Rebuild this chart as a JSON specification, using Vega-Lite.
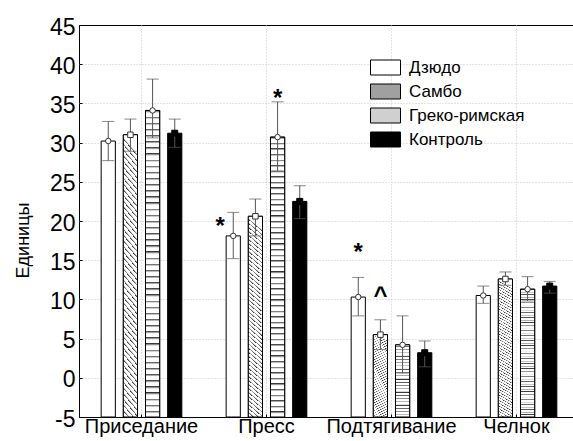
{
"$schema": "https://vega.github.io/schema/vega-lite/v6.json",
"width": 494,
"height": 392,
"autosize": {"type": "none"},
"padding": {"left": 79, "top": 25, "right": 0, "bottom": 24},
"background": "white",
"config": {
  "font": "Liberation Sans",
  "view": {"stroke": "black", "strokeWidth": 1},
  "axis": {"domain": false, "ticks": false, "gridColor": "#c8c8c8", "gridDash": [1, 2], "gridWidth": 1, "labelColor": "black", "titleColor": "black", "labelFont": "Liberation Sans", "titleFont": "Liberation Sans"},
  "axisY": {"labelOverlap": false, "labelFlush": false},
  "legend": {"labelFont": "Liberation Sans"}
},
"datasets": {
  "bars": [
    {"group":"Приседание","series":"Дзюдо","mean":30.2,"lo":27.7,"hi":32.7},
    {"group":"Приседание","series":"Самбо","mean":31.0,"lo":28.9,"hi":33.0},
    {"group":"Приседание","series":"Греко-римская","mean":34.1,"lo":30.6,"hi":38.1},
    {"group":"Приседание","series":"Контроль","mean":31.2,"lo":29.4,"hi":33.0},
    {"group":"Пресс","series":"Дзюдо","mean":18.1,"lo":15.2,"hi":21.1},
    {"group":"Пресс","series":"Самбо","mean":20.6,"lo":18.1,"hi":22.8},
    {"group":"Пресс","series":"Греко-римская","mean":30.7,"lo":26.4,"hi":35.2},
    {"group":"Пресс","series":"Контроль","mean":22.5,"lo":20.3,"hi":24.5},
    {"group":"Подтягивание","series":"Дзюдо","mean":10.3,"lo":7.9,"hi":12.8},
    {"group":"Подтягивание","series":"Самбо","mean":5.5,"lo":3.6,"hi":7.4},
    {"group":"Подтягивание","series":"Греко-римская","mean":4.2,"lo":0.6,"hi":7.9},
    {"group":"Подтягивание","series":"Контроль","mean":3.2,"lo":1.4,"hi":4.7},
    {"group":"Челнок","series":"Дзюдо","mean":10.5,"lo":9.5,"hi":11.7},
    {"group":"Челнок","series":"Самбо","mean":12.6,"lo":11.8,"hi":13.5},
    {"group":"Челнок","series":"Греко-римская","mean":11.3,"lo":9.8,"hi":12.9},
    {"group":"Челнок","series":"Контроль","mean":11.7,"lo":10.8,"hi":12.3}
  ],
  "annTop": [
    {"group":"Пресс","series":"Греко-римская","label":"*","y":36.5},
    {"group":"Подтягивание","series":"Дзюдо","label":"*","y":16.8},
    {"group":"Подтягивание","series":"Самбо","label":"^","y":11.3}
  ],
  "annLeft": [
    {"group":"Пресс","series":"Дзюдо","label":"*","y":20.1}
  ]
},
"encoding": {
  "x": {"field": "group", "type": "nominal", "sort": ["Приседание","Пресс","Подтягивание","Челнок"],
        "scale": {"range": [0, 500], "paddingInner": 0, "paddingOuter": 0},
        "axis": {"title": null, "labelAngle": 0, "labelFontSize": 20, "labelPadding": 2, "grid": true, "bandPosition": 0.5, "ticks": true, "tickSize": -3, "tickColor": "black"}},
  "xOffset": {"field": "series", "type": "nominal", "sort": ["Дзюдо","Самбо","Греко-римская","Контроль"],
        "scale": {"paddingInner": 0.36, "paddingOuter": 1.52}}
},
"layer": [
  {
    "data": {"name": "bars"},
    "mark": {"type": "bar", "stroke": "black", "strokeWidth": 1, "strokeOpacity": 1},
    "encoding": {
      "y": {"field": "mean", "type": "quantitative", "scale": {"domain": [-5, 45], "nice": false, "zero": false},
            "axis": {"values": [-5,0,5,10,15,20,25,30,35,40,45], "tickCount": 20, "labelExpr": "datum.value", "labelOverlap": false, "labelFontSize": 23, "labelPadding": 7, "labelOffset": 2, "grid": true,
                     "gridOpacity": {"condition": {"test": "datum.value === 45 || datum.value === -5", "value": 0}, "value": 1},
                     "ticks": true, "tickSize": -3, "tickColor": "black",
                     "title": "Единицы", "titleFontSize": 18, "titleFontWeight": "normal", "titleAngle": 270, "titleX": -56, "titleY": 215, "titleBaseline": "middle", "titleAlign": "center"}},
      "y2": {"datum": -5},
      "fill": {"field": "series", "type": "nominal", "sort": ["Дзюдо","Самбо","Греко-римская","Контроль"],
        "scale": {"domain": ["Дзюдо","Самбо","Греко-римская","Контроль"], "range": ["#ffffff", "#a0a0a0", "#d0d0d0", "#000000"]},
        "legend": {"title": null, "orient": "none", "legendX": 296, "legendY": 32, "symbolType": "M-1.5,-0.75H1.5V0.75H-1.5Z", "symbolSize": 400,
                   "symbolStrokeColor": "black", "symbolStrokeWidth": 1, "labelFontSize": 17, "labelColor": "black", "labelOffset": 13, "rowPadding": 4}}
    }
  },
  {
    "data": {"name": "bars"},
    "transform": [{"filter": "datum.series === 'Самбо'"}],
    "mark": {"type": "bar", "stroke": "black", "strokeWidth": 1,
      "fill": {"gradient": "linear", "x1": 0, "y1": 1, "x2": 0.06, "y2": 0, "stops": [
{"offset":0,"color":"#333"},{"offset":0.008,"color":"#fff"},{"offset":0.02,"color":"#fff"},
{"offset":0.02,"color":"#333"},{"offset":0.028,"color":"#fff"},{"offset":0.04,"color":"#fff"},
{"offset":0.04,"color":"#333"},{"offset":0.048,"color":"#fff"},{"offset":0.06,"color":"#fff"},
{"offset":0.06,"color":"#333"},{"offset":0.068,"color":"#fff"},{"offset":0.08,"color":"#fff"},
{"offset":0.08,"color":"#333"},{"offset":0.088,"color":"#fff"},{"offset":0.1,"color":"#fff"},
{"offset":0.1,"color":"#333"},{"offset":0.108,"color":"#fff"},{"offset":0.12,"color":"#fff"},
{"offset":0.12,"color":"#333"},{"offset":0.128,"color":"#fff"},{"offset":0.14,"color":"#fff"},
{"offset":0.14,"color":"#333"},{"offset":0.148,"color":"#fff"},{"offset":0.16,"color":"#fff"},
{"offset":0.16,"color":"#333"},{"offset":0.168,"color":"#fff"},{"offset":0.18,"color":"#fff"},
{"offset":0.18,"color":"#333"},{"offset":0.188,"color":"#fff"},{"offset":0.2,"color":"#fff"},
{"offset":0.2,"color":"#333"},{"offset":0.208,"color":"#fff"},{"offset":0.22,"color":"#fff"},
{"offset":0.22,"color":"#333"},{"offset":0.228,"color":"#fff"},{"offset":0.24,"color":"#fff"},
{"offset":0.24,"color":"#333"},{"offset":0.248,"color":"#fff"},{"offset":0.26,"color":"#fff"},
{"offset":0.26,"color":"#333"},{"offset":0.268,"color":"#fff"},{"offset":0.28,"color":"#fff"},
{"offset":0.28,"color":"#333"},{"offset":0.288,"color":"#fff"},{"offset":0.3,"color":"#fff"},
{"offset":0.3,"color":"#333"},{"offset":0.308,"color":"#fff"},{"offset":0.32,"color":"#fff"},
{"offset":0.32,"color":"#333"},{"offset":0.328,"color":"#fff"},{"offset":0.34,"color":"#fff"},
{"offset":0.34,"color":"#333"},{"offset":0.348,"color":"#fff"},{"offset":0.36,"color":"#fff"},
{"offset":0.36,"color":"#333"},{"offset":0.368,"color":"#fff"},{"offset":0.38,"color":"#fff"},
{"offset":0.38,"color":"#333"},{"offset":0.388,"color":"#fff"},{"offset":0.4,"color":"#fff"},
{"offset":0.4,"color":"#333"},{"offset":0.408,"color":"#fff"},{"offset":0.42,"color":"#fff"},
{"offset":0.42,"color":"#333"},{"offset":0.428,"color":"#fff"},{"offset":0.44,"color":"#fff"},
{"offset":0.44,"color":"#333"},{"offset":0.448,"color":"#fff"},{"offset":0.46,"color":"#fff"},
{"offset":0.46,"color":"#333"},{"offset":0.468,"color":"#fff"},{"offset":0.48,"color":"#fff"},
{"offset":0.48,"color":"#333"},{"offset":0.488,"color":"#fff"},{"offset":0.5,"color":"#fff"},
{"offset":0.5,"color":"#333"},{"offset":0.508,"color":"#fff"},{"offset":0.52,"color":"#fff"},
{"offset":0.52,"color":"#333"},{"offset":0.528,"color":"#fff"},{"offset":0.54,"color":"#fff"},
{"offset":0.54,"color":"#333"},{"offset":0.548,"color":"#fff"},{"offset":0.56,"color":"#fff"},
{"offset":0.56,"color":"#333"},{"offset":0.568,"color":"#fff"},{"offset":0.58,"color":"#fff"},
{"offset":0.58,"color":"#333"},{"offset":0.588,"color":"#fff"},{"offset":0.6,"color":"#fff"},
{"offset":0.6,"color":"#333"},{"offset":0.608,"color":"#fff"},{"offset":0.62,"color":"#fff"},
{"offset":0.62,"color":"#333"},{"offset":0.628,"color":"#fff"},{"offset":0.64,"color":"#fff"},
{"offset":0.64,"color":"#333"},{"offset":0.648,"color":"#fff"},{"offset":0.66,"color":"#fff"},
{"offset":0.66,"color":"#333"},{"offset":0.668,"color":"#fff"},{"offset":0.68,"color":"#fff"},
{"offset":0.68,"color":"#333"},{"offset":0.688,"color":"#fff"},{"offset":0.7,"color":"#fff"},
{"offset":0.7,"color":"#333"},{"offset":0.708,"color":"#fff"},{"offset":0.72,"color":"#fff"},
{"offset":0.72,"color":"#333"},{"offset":0.728,"color":"#fff"},{"offset":0.74,"color":"#fff"},
{"offset":0.74,"color":"#333"},{"offset":0.748,"color":"#fff"},{"offset":0.76,"color":"#fff"},
{"offset":0.76,"color":"#333"},{"offset":0.768,"color":"#fff"},{"offset":0.78,"color":"#fff"},
{"offset":0.78,"color":"#333"},{"offset":0.788,"color":"#fff"},{"offset":0.8,"color":"#fff"},
{"offset":0.8,"color":"#333"},{"offset":0.808,"color":"#fff"},{"offset":0.82,"color":"#fff"},
{"offset":0.82,"color":"#333"},{"offset":0.828,"color":"#fff"},{"offset":0.84,"color":"#fff"},
{"offset":0.84,"color":"#333"},{"offset":0.848,"color":"#fff"},{"offset":0.86,"color":"#fff"},
{"offset":0.86,"color":"#333"},{"offset":0.868,"color":"#fff"},{"offset":0.88,"color":"#fff"},
{"offset":0.88,"color":"#333"},{"offset":0.888,"color":"#fff"},{"offset":0.9,"color":"#fff"},
{"offset":0.9,"color":"#333"},{"offset":0.908,"color":"#fff"},{"offset":0.92,"color":"#fff"},
{"offset":0.92,"color":"#333"},{"offset":0.928,"color":"#fff"},{"offset":0.94,"color":"#fff"},
{"offset":0.94,"color":"#333"},{"offset":0.948,"color":"#fff"},{"offset":0.96,"color":"#fff"},
{"offset":0.96,"color":"#333"},{"offset":0.968,"color":"#fff"},{"offset":0.98,"color":"#fff"},
{"offset":0.98,"color":"#333"},{"offset":0.988,"color":"#fff"},{"offset":1,"color":"#fff"}
      ]}},
    "encoding": {"y": {"field": "mean", "type": "quantitative"}, "y2": {"datum": -5}}
  },
  {
    "data": {"name": "bars"},
    "transform": [{"filter": "datum.series === 'Греко-римская'"}],
    "mark": {"type": "bar", "stroke": "black", "strokeWidth": 1,
      "fill": {"gradient": "linear", "x1": 0, "y1": 0, "x2": 0, "y2": 1, "stops": [
{"offset":0,"color":"#333"},{"offset":0.008,"color":"#fff"},{"offset":0.02,"color":"#fff"},
{"offset":0.02,"color":"#333"},{"offset":0.028,"color":"#fff"},{"offset":0.04,"color":"#fff"},
{"offset":0.04,"color":"#333"},{"offset":0.048,"color":"#fff"},{"offset":0.06,"color":"#fff"},
{"offset":0.06,"color":"#333"},{"offset":0.068,"color":"#fff"},{"offset":0.08,"color":"#fff"},
{"offset":0.08,"color":"#333"},{"offset":0.088,"color":"#fff"},{"offset":0.1,"color":"#fff"},
{"offset":0.1,"color":"#333"},{"offset":0.108,"color":"#fff"},{"offset":0.12,"color":"#fff"},
{"offset":0.12,"color":"#333"},{"offset":0.128,"color":"#fff"},{"offset":0.14,"color":"#fff"},
{"offset":0.14,"color":"#333"},{"offset":0.148,"color":"#fff"},{"offset":0.16,"color":"#fff"},
{"offset":0.16,"color":"#333"},{"offset":0.168,"color":"#fff"},{"offset":0.18,"color":"#fff"},
{"offset":0.18,"color":"#333"},{"offset":0.188,"color":"#fff"},{"offset":0.2,"color":"#fff"},
{"offset":0.2,"color":"#333"},{"offset":0.208,"color":"#fff"},{"offset":0.22,"color":"#fff"},
{"offset":0.22,"color":"#333"},{"offset":0.228,"color":"#fff"},{"offset":0.24,"color":"#fff"},
{"offset":0.24,"color":"#333"},{"offset":0.248,"color":"#fff"},{"offset":0.26,"color":"#fff"},
{"offset":0.26,"color":"#333"},{"offset":0.268,"color":"#fff"},{"offset":0.28,"color":"#fff"},
{"offset":0.28,"color":"#333"},{"offset":0.288,"color":"#fff"},{"offset":0.3,"color":"#fff"},
{"offset":0.3,"color":"#333"},{"offset":0.308,"color":"#fff"},{"offset":0.32,"color":"#fff"},
{"offset":0.32,"color":"#333"},{"offset":0.328,"color":"#fff"},{"offset":0.34,"color":"#fff"},
{"offset":0.34,"color":"#333"},{"offset":0.348,"color":"#fff"},{"offset":0.36,"color":"#fff"},
{"offset":0.36,"color":"#333"},{"offset":0.368,"color":"#fff"},{"offset":0.38,"color":"#fff"},
{"offset":0.38,"color":"#333"},{"offset":0.388,"color":"#fff"},{"offset":0.4,"color":"#fff"},
{"offset":0.4,"color":"#333"},{"offset":0.408,"color":"#fff"},{"offset":0.42,"color":"#fff"},
{"offset":0.42,"color":"#333"},{"offset":0.428,"color":"#fff"},{"offset":0.44,"color":"#fff"},
{"offset":0.44,"color":"#333"},{"offset":0.448,"color":"#fff"},{"offset":0.46,"color":"#fff"},
{"offset":0.46,"color":"#333"},{"offset":0.468,"color":"#fff"},{"offset":0.48,"color":"#fff"},
{"offset":0.48,"color":"#333"},{"offset":0.488,"color":"#fff"},{"offset":0.5,"color":"#fff"},
{"offset":0.5,"color":"#333"},{"offset":0.508,"color":"#fff"},{"offset":0.52,"color":"#fff"},
{"offset":0.52,"color":"#333"},{"offset":0.528,"color":"#fff"},{"offset":0.54,"color":"#fff"},
{"offset":0.54,"color":"#333"},{"offset":0.548,"color":"#fff"},{"offset":0.56,"color":"#fff"},
{"offset":0.56,"color":"#333"},{"offset":0.568,"color":"#fff"},{"offset":0.58,"color":"#fff"},
{"offset":0.58,"color":"#333"},{"offset":0.588,"color":"#fff"},{"offset":0.6,"color":"#fff"},
{"offset":0.6,"color":"#333"},{"offset":0.608,"color":"#fff"},{"offset":0.62,"color":"#fff"},
{"offset":0.62,"color":"#333"},{"offset":0.628,"color":"#fff"},{"offset":0.64,"color":"#fff"},
{"offset":0.64,"color":"#333"},{"offset":0.648,"color":"#fff"},{"offset":0.66,"color":"#fff"},
{"offset":0.66,"color":"#333"},{"offset":0.668,"color":"#fff"},{"offset":0.68,"color":"#fff"},
{"offset":0.68,"color":"#333"},{"offset":0.688,"color":"#fff"},{"offset":0.7,"color":"#fff"},
{"offset":0.7,"color":"#333"},{"offset":0.708,"color":"#fff"},{"offset":0.72,"color":"#fff"},
{"offset":0.72,"color":"#333"},{"offset":0.728,"color":"#fff"},{"offset":0.74,"color":"#fff"},
{"offset":0.74,"color":"#333"},{"offset":0.748,"color":"#fff"},{"offset":0.76,"color":"#fff"},
{"offset":0.76,"color":"#333"},{"offset":0.768,"color":"#fff"},{"offset":0.78,"color":"#fff"},
{"offset":0.78,"color":"#333"},{"offset":0.788,"color":"#fff"},{"offset":0.8,"color":"#fff"},
{"offset":0.8,"color":"#333"},{"offset":0.808,"color":"#fff"},{"offset":0.82,"color":"#fff"},
{"offset":0.82,"color":"#333"},{"offset":0.828,"color":"#fff"},{"offset":0.84,"color":"#fff"},
{"offset":0.84,"color":"#333"},{"offset":0.848,"color":"#fff"},{"offset":0.86,"color":"#fff"},
{"offset":0.86,"color":"#333"},{"offset":0.868,"color":"#fff"},{"offset":0.88,"color":"#fff"},
{"offset":0.88,"color":"#333"},{"offset":0.888,"color":"#fff"},{"offset":0.9,"color":"#fff"},
{"offset":0.9,"color":"#333"},{"offset":0.908,"color":"#fff"},{"offset":0.92,"color":"#fff"},
{"offset":0.92,"color":"#333"},{"offset":0.928,"color":"#fff"},{"offset":0.94,"color":"#fff"},
{"offset":0.94,"color":"#333"},{"offset":0.948,"color":"#fff"},{"offset":0.96,"color":"#fff"},
{"offset":0.96,"color":"#333"},{"offset":0.968,"color":"#fff"},{"offset":0.98,"color":"#fff"},
{"offset":0.98,"color":"#333"},{"offset":0.988,"color":"#fff"},{"offset":1,"color":"#fff"}
      ]}},
    "encoding": {"y": {"field": "mean", "type": "quantitative"}, "y2": {"datum": -5}}
  },
  {
    "data": {"name": "bars"},
    "mark": {"type": "rule", "color": "#555", "strokeWidth": 1},
    "encoding": {"y": {"field": "lo", "type": "quantitative"}, "y2": {"field": "hi"}}
  },
  {
    "data": {"name": "bars"},
    "mark": {"type": "tick", "color": "#555", "thickness": 1, "size": 12},
    "encoding": {"y": {"field": "hi", "type": "quantitative"}}
  },
  {
    "data": {"name": "bars"},
    "mark": {"type": "tick", "color": "#555", "thickness": 1, "size": 12},
    "encoding": {"y": {"field": "lo", "type": "quantitative"}}
  },
  {
    "data": {"name": "bars"},
    "transform": [{"filter": "datum.series === 'Дзюдо' || datum.series === 'Греко-римская'"}],
    "mark": {"type": "point", "shape": "circle", "filled": true, "fill": "white", "size": 30, "stroke": "#333", "strokeWidth": 1, "opacity": 1},
    "encoding": {"y": {"field": "mean", "type": "quantitative"}}
  },
  {
    "data": {"name": "bars"},
    "transform": [{"filter": "datum.series === 'Самбо'"}],
    "mark": {"type": "point", "shape": "square", "filled": true, "fill": "white", "size": 30, "stroke": "#333", "strokeWidth": 1, "opacity": 1},
    "encoding": {"y": {"field": "mean", "type": "quantitative"}}
  },
  {
    "data": {"name": "bars"},
    "transform": [{"filter": "datum.series === 'Контроль'"}],
    "mark": {"type": "point", "shape": "square", "filled": true, "fill": "black", "size": 36, "stroke": "black", "strokeWidth": 1, "opacity": 1},
    "encoding": {"y": {"field": "mean", "type": "quantitative"}}
  },
  {
    "data": {"name": "annTop"},
    "mark": {"type": "text", "fontSize": 24, "fontWeight": "bold", "baseline": "middle", "dy": 7, "color": "black"},
    "encoding": {"y": {"field": "y", "type": "quantitative"}, "text": {"field": "label"}}
  },
  {
    "data": {"name": "annLeft"},
    "mark": {"type": "text", "fontSize": 24, "fontWeight": "bold", "baseline": "middle", "dy": 7, "dx": -13, "color": "black"},
    "encoding": {"y": {"field": "y", "type": "quantitative"}, "text": {"field": "label"}}
  }
]
}
